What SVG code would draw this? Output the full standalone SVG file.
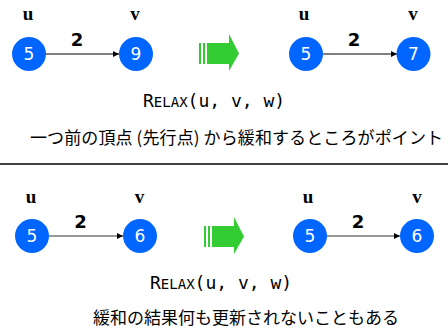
<svg xmlns="http://www.w3.org/2000/svg" width="448" height="329" viewBox="0 0 448 329">
<style>
.node circle{fill:#0066ff}
.num{font-family:"DejaVu Sans",sans-serif;font-size:17px;fill:#fff;text-anchor:middle}
.lbl{font-family:"Liberation Serif",serif;font-weight:bold;font-size:19px;fill:#000;text-anchor:middle}
.w{font-family:"DejaVu Sans",sans-serif;font-weight:bold;font-size:18px;fill:#000;text-anchor:middle}
.relax{font-family:"DejaVu Sans Mono",monospace;font-size:18px;fill:#000}
.jp{font-family:"Noto Sans CJK JP",sans-serif;fill:#000}
.e1{stroke:#000;stroke-width:1;fill:none}
.e2{stroke:#999;stroke-width:2;fill:none}
.big{fill:#33cc33}
</style>
<defs>
<marker id="ah" viewBox="0 0 10 10" refX="10" refY="5" markerWidth="6" markerHeight="6" markerUnits="userSpaceOnUse" orient="auto"><path d="M0,0 L10,5 L0,10 z" fill="#000"/></marker>
<g id="garrow">
<rect x="0" y="10" width="2" height="21" class="big"/>
<rect x="4" y="10" width="2" height="21" class="big"/>
<rect x="8" y="10" width="23" height="21" class="big"/>
<path d="M30,1 L40,20.5 L30,38 z" class="big"/>
</g>
</defs>
<g id="connectors">
<line class="e1" x1="46" y1="54" x2="119" y2="54" marker-end="url(#ah)"/>
<line class="e1" x1="323" y1="54" x2="397" y2="54" marker-end="url(#ah)"/>
<line class="e2" x1="49" y1="236" x2="123" y2="236" marker-end="url(#ah)"/>
<line class="e2" x1="327" y1="236" x2="400" y2="236" marker-end="url(#ah)"/>
</g>
<g id="edge-labels">
<text class="w" x="77" y="46">2</text>
<text class="w" x="354" y="46">2</text>
<text class="w" x="80.5" y="228">2</text>
<text class="w" x="358" y="228">2</text>
</g>
<g id="u1" class="node"><text class="lbl" x="28" y="20">u</text><circle cx="29" cy="54" r="17"/><text class="num" x="29" y="60">5</text></g>
<g id="v1" class="node"><text class="lbl" x="135" y="20">v</text><circle cx="136" cy="54" r="17"/><text class="num" x="136" y="60">9</text></g>
<g id="u2" class="node"><text class="lbl" x="304" y="20">u</text><circle cx="306" cy="54" r="17"/><text class="num" x="306" y="60">5</text></g>
<g id="v2" class="node"><text class="lbl" x="413" y="20">v</text><circle cx="413.5" cy="54" r="17"/><text class="num" x="413.5" y="60">7</text></g>
<g id="u3" class="node"><text class="lbl" x="31" y="203">u</text><circle cx="32" cy="236" r="17"/><text class="num" x="32" y="242">5</text></g>
<g id="v3" class="node"><text class="lbl" x="139.5" y="203">v</text><circle cx="140" cy="236" r="17"/><text class="num" x="140" y="242">6</text></g>
<g id="u4" class="node"><text class="lbl" x="308" y="203">u</text><circle cx="310" cy="236" r="17"/><text class="num" x="310" y="242">5</text></g>
<g id="v4" class="node"><text class="lbl" x="417" y="203">v</text><circle cx="417" cy="236" r="17"/><text class="num" x="417" y="242">6</text></g>
<use href="#garrow" x="199" y="33"/>
<use href="#garrow" x="204" y="216"/>
<text class="relax" x="143" y="107">R<tspan font-size="14">ELAX</tspan>(u, v, w)</text>
<text class="jp" x="30" y="144" font-size="17" textLength="413" lengthAdjust="spacing">一つ前の頂点 (先行点) から緩和するところがポイント</text>
<line x1="0" y1="164" x2="448" y2="164" stroke="#000" stroke-width="1.5"/>
<text class="relax" x="150" y="289">R<tspan font-size="14">ELAX</tspan>(u, v, w)</text>
<text class="jp" x="93" y="324" font-size="17">緩和の結果何も更新されないこともある</text>
</svg>
